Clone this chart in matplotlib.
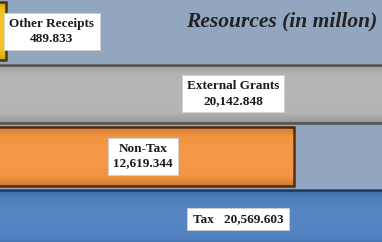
import matplotlib.pyplot as plt
import numpy as np

categories = ["Tax", "Non-Tax", "External Grants", "Other Receipts"]
values = [20569.603, 12619.344, 20142.848, 489.833]
value_labels = ["20,569.603", "12,619.344", "20,142.848", "489.833"]
bar_colors = ["#4f80c0", "#f39440", "#b3b3b3", "#f2c21e"]
edge_colors = ["#22406e", "#5a2e0c", "#555555", "#4a3a08"]

# label box centres: x in axes fraction, y follows the bar
label_x = [0.623, 0.374, 0.610, 0.136]

fig = plt.figure(figsize=(3.82, 2.42), dpi=100)
fig.patch.set_facecolor("#93a6bf")
ax = fig.add_axes([0, 0, 1, 1])
ax.set_facecolor("#93a6bf")

y = np.arange(len(categories))
bars = ax.barh(y, values, height=0.935, color=bar_colors,
               edgecolor=edge_colors, linewidth=1.8)

# bevel look: light band in the middle, darker towards the edges
t = np.linspace(0, 1, 50)
shade = 0.10 * np.sin(t * np.pi) - 0.05
for b in bars:
    x0, y0 = b.get_x(), b.get_y()
    w, h = b.get_width(), b.get_height()
    light = np.ones((50, 1, 4))
    light[:, 0, 3] = np.clip(shade, 0, 1)
    dark = np.zeros((50, 1, 4))
    dark[:, 0, 3] = np.clip(-shade, 0, 1) * 3
    for img in (light, dark):
        im = ax.imshow(img, extent=[x0, x0 + w, y0, y0 + h], aspect="auto",
                       zorder=2.5, interpolation="bilinear")
        im.set_clip_path(b)

for i in range(len(categories)):
    if categories[i] == "Tax":
        txt = categories[i] + "   " + value_labels[i]
    else:
        txt = categories[i] + "\n" + value_labels[i]
    ax.text(label_x[i], y[i], txt,
            transform=ax.get_yaxis_transform(), ha="center", va="center",
            fontsize=9.5, fontweight="bold", family="Liberation Serif",
            color="#1a1a1a", linespacing=1.3, zorder=5,
            bbox=dict(boxstyle="square,pad=0.4", facecolor="white",
                      edgecolor="#d0d0d0", linewidth=0.6))

ax.text(0.988, 0.91, "Resources (in millon)", transform=ax.transAxes,
        ha="right", va="center", fontsize=15.5, fontweight="bold",
        fontstyle="italic", family="Liberation Serif", color="#222222")

ax.set_xlim(236, 16324)
ax.set_ylim(-0.371, 3.50)
ax.axis("off")

fig.savefig("out.png", dpi=100, facecolor=fig.get_facecolor())
